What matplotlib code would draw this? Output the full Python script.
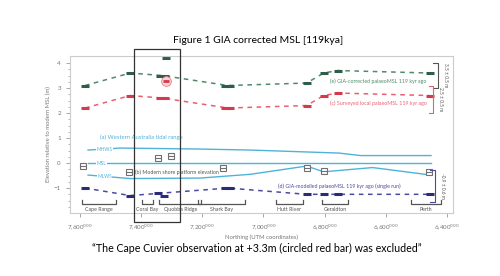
import matplotlib.pyplot as plt
from matplotlib.patches import Rectangle

plt.rcParams['font.family'] = ['Lato', 'DejaVu Sans']

# Northing in km (x1000), elevation in m
site_n = [7584, 7436, 7331, 7116, 6859, 6803, 6757, 6456]
green_line = [3.1, 3.6, 3.5, 3.1, 3.2, 3.6, 3.7, 3.6]
red_line = [2.2, 2.7, 2.6, 2.2, 2.3, 2.7, 2.8, 2.7]
blue_line = [-1.0, -1.3, -1.2, -1.0, -1.25, -1.25, -1.25, -1.25]

obs_n = [7584, 7436, 7340, 7322, 7125, 7108, 6859, 6803, 6757, 6456]
green_obs = [3.1, 3.6, 3.5, 3.5, 3.1, 3.1, 3.2, 3.6, 3.7, 3.6]
red_obs = [2.2, 2.7, 2.6, 2.6, 2.2, 2.2, 2.3, 2.7, 2.8, 2.7]
blue_n = [7584, 7436, 7344, 7325, 7125, 7108, 6859, 6803, 6757, 6456]
blue_obs = [-1.0, -1.3, -1.2, -1.3, -1.0, -1.0, -1.25, -1.25, -1.25, -1.25]

cuvier_n = 7318
cuvier_green = 4.2
cuvier_red = 3.3

platform_n = [7590, 7439, 7344, 7302, 7131, 6859, 6803, 6459]
platform_z = [-0.1, -0.35, 0.2, 0.3, -0.2, -0.2, -0.3, -0.35]

hw_n = [7574, 7469, 7207, 7043, 6754, 6682, 6452]
hw_z = [0.52, 0.6, 0.56, 0.52, 0.4, 0.3, 0.3]
msl_n = [7574, 6452]
msl_z = [0.0, 0.0]
lw_n = [7574, 7436, 7207, 7043, 6859, 6803, 6643, 6452]
lw_z = [-0.48, -0.62, -0.6, -0.45, -0.12, -0.35, -0.18, -0.48]

regions = ["Cape Range", "Coral Bay", "Quobba Ridge", "Shark Bay", "Hutt River", "Geraldton", "Perth"]
region_start = [7593, 7397, 7341, 7213, 6958, 6807, 6518]
region_end = [7482, 7361, 7203, 7062, 6872, 6725, 6420]

xticks = [7600, 7400, 7200, 7000, 6800, 6600, 6400]
xticklabels = ["7,600$^{000}$", "7,400$^{000}$", "7,200$^{000}$", "7,000$^{000}$",
               "6,800$^{000}$", "6,600$^{000}$", "6,400$^{000}$"]

green = '#2f5d4a'
green_l = '#4f8a6a'
red = '#d63a4a'
red_l = '#e8606f'
navy = '#2b2b7a'
navy_l = '#4a4aa0'
cyan = '#4fb3d9'
grey = '#707070'

fig = plt.figure(figsize=(5, 2.76), dpi=100)
ax = fig.add_axes([0.14, 0.228, 0.766, 0.569])

ax.plot(site_n, green_line, color=green_l, lw=1.1, ls=(0, (3, 3)))
ax.plot(site_n, red_line, color=red_l, lw=1.1, ls=(0, (3, 3)))
ax.plot(site_n, blue_line, color=navy_l, lw=1.1, ls=(0, (3, 3)))

ax.plot(obs_n, green_obs, ls='none', marker='_', ms=5.5, mew=2.2, color=green)
ax.plot(obs_n, red_obs, ls='none', marker='_', ms=5.5, mew=2.2, color=red)
ax.plot(blue_n, blue_obs, ls='none', marker='_', ms=5.5, mew=2.2, color=navy)
ax.plot([cuvier_n], [cuvier_green], ls='none', marker='_', ms=5.5, mew=2.2, color=green)
ax.plot([cuvier_n], [cuvier_red], ls='none', marker='o', ms=7, mfc='#f9d4d8', mec='#e87c88', mew=0.6)
ax.plot([cuvier_n], [cuvier_red], ls='none', marker='_', ms=5, mew=2.0, color=red)

ax.plot(hw_n, hw_z, color=cyan, lw=1.0)
ax.plot(msl_n, msl_z, color=cyan, lw=1.0)
ax.plot(lw_n, lw_z, color=cyan, lw=1.0)
for n, z, t in [(7520, 0.55, "MHWS"), (7530, 0.0, "MSL"), (7520, -0.52, "MLWS")]:
    ax.text(n, z, t, color=cyan, fontsize=3.5, ha='center', va='center',
            bbox=dict(fc='white', ec='none', pad=0.3))

ax.plot(platform_n, platform_z, ls='none', marker='s', ms=3.8, mfc='white', mec=grey, mew=0.8)
ax.plot(platform_n, platform_z, ls='none', marker='_', ms=3.8, mew=0.8, color=grey)

# region brackets along the bottom
for s, e, name in zip(region_start, region_end, regions):
    ax.plot([s, s, e, e], [-1.48, -1.64, -1.64, -1.48], color='#555555', lw=0.9)
    ax.text((s + e) / 2, -1.84, name, fontsize=3.8, color='#555555', ha='center', va='center')

# right hand brackets
ax.plot([6445, 6430, 6430, 6445], [4.0, 4.0, 3.0, 3.0], color='#555555', lw=0.8)
ax.plot([6460, 6445, 6445, 6460], [3.1, 3.1, 2.0, 2.0], color=red_l, lw=0.8)
ax.plot([6455, 6440, 6440, 6455], [-0.28, -0.28, -1.55, -1.55], color=navy_l, lw=0.8)
ax.text(6405, 3.5, "3.5 ± 0.5 m", rotation=270, fontsize=3.5, color='#555555', ha='center', va='center')
ax.text(6420, 2.55, "2.5 ± 0.5 m", rotation=270, fontsize=3.5, color='#555555', ha='center', va='center')
ax.text(6415, -0.9, "-0.9 ± 0.6 m", rotation=270, fontsize=3.5, color='#555555', ha='center', va='center')

ax.text(6784, 3.29, "(e) GIA-corrected palaeoMSL 119 kyr ago", color=green_l, fontsize=3.8, va='center')
ax.text(6784, 2.41, "(c) Surveyed local palaeoMSL 119 kyr ago", color=red_l, fontsize=3.8, va='center')
ax.text(6951, -0.92, "(d) GIA-modelled palaeoMSL 119 kyr ago (single run)", color=navy_l, fontsize=3.8, va='center')
ax.text(7534, 1.05, "(a) Western Australia tidal range", color=cyan, fontsize=4.2, va='center')
ax.text(7420, -0.36, "(b) Modern shore platform elevation", color='#555555', fontsize=3.8, va='center')

ax.set_xlim(7633, 6380)
ax.set_ylim(-2.0, 4.28)
ax.set_xticks(xticks)
ax.set_xticklabels(xticklabels)
ax.set_yticks([-1, 0, 1, 2, 3, 4])
ax.set_yticks([i * 0.25 for i in range(-7, 17)], minor=True)
ax.tick_params(axis='both', colors='#999999', labelcolor='#777777', labelsize=4.5, length=3, width=0.6)
ax.tick_params(axis='y', which='minor', colors='#999999', length=1.5, width=0.5)
for sp in ax.spines.values():
    sp.set_color('#cccccc')
    sp.set_linewidth(0.8)
ax.set_xlabel("Northing (UTM coordinates)", fontsize=4.2, color='#777777', labelpad=2)
ax.set_ylabel("Elevation relative to modern MSL (m)", fontsize=4.2, color='#777777', labelpad=2)

# Quobba Ridge highlight box
fig.patches.append(Rectangle((0.268, 0.196), 0.092, 0.626, transform=fig.transFigure,
                             fill=False, ec='#333333', lw=0.9))

fig.text(0.516, 0.855, "Figure 1 GIA corrected MSL [119kya]", fontsize=7.5, ha='center', va='center')
fig.text(0.514, 0.101, "\u201cThe Cape Cuvier observation at +3.3m (circled red bar) was excluded\u201d",
         fontsize=7.7, ha='center', va='center')

fig.savefig('out.png', dpi=100)
